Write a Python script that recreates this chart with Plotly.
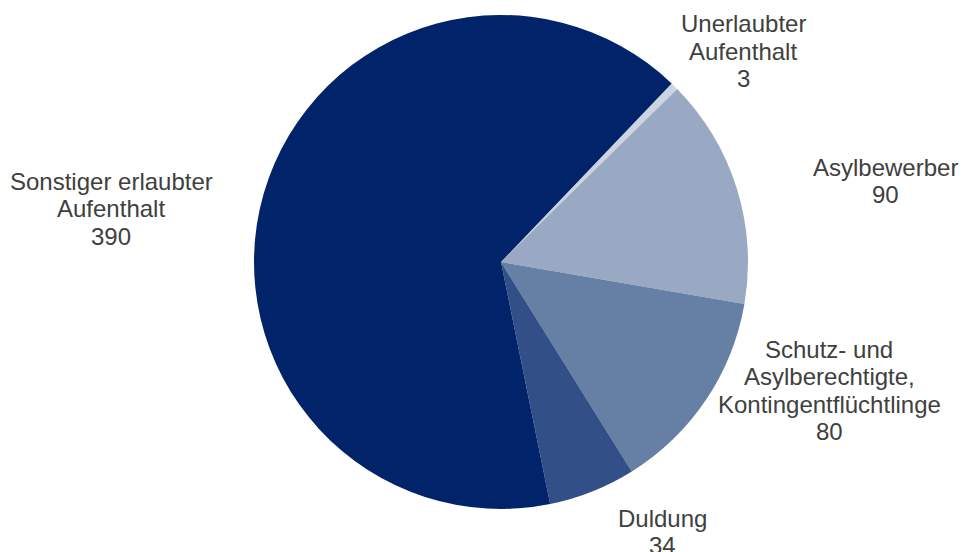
import plotly.graph_objects as go

labels = ["Unerlaubter Aufenthalt", "Asylbewerber",
          "Schutz- und Asylberechtigte, Kontingentflüchtlinge",
          "Duldung", "Sonstiger erlaubter Aufenthalt"]
label_lines = [["Unerlaubter", "Aufenthalt"], ["Asylbewerber"],
               ["Schutz- und", "Asylberechtigte,", "Kontingentflüchtlinge"],
               ["Duldung"], ["Sonstiger erlaubter", "Aufenthalt"]]
values = [3, 90, 80, 34, 390]
colors = ["#CCD3E1", "#99A9C3", "#667FA5", "#334F87", "#002369"]

# label anchor (pixel center x, first line center y)
label_pos = [(743, 24), (885, 167), (829, 349), (662, 518), (111, 181)]

W, H = 964, 552
cx, cy, r = 501, 262, 247

fig = go.Figure(go.Pie(
    labels=labels, values=values, sort=False, direction="clockwise",
    rotation=43.7, marker=dict(colors=colors, line=dict(width=0)),
    textinfo="none", hoverinfo="label+value", showlegend=False,
    domain=dict(x=[(cx - r) / W, (cx + r) / W], y=[1 - (cy + r) / H, 1 - (cy - r) / H]),
))

annotations = []
LS = 27.5
for lines, val, (px, py) in zip(label_lines, values, label_pos):
    for i, t in enumerate(lines + [str(val)]):
        annotations.append(dict(
            x=px / W, y=1 - (py + i * LS) / H, xref="paper", yref="paper",
            text=t, showarrow=False, xanchor="center", yanchor="middle",
            font=dict(family="Liberation Sans, Arial, sans-serif", size=24, color="#404040"),
        ))

fig.update_layout(
    width=W, height=H, margin=dict(l=0, r=0, t=0, b=0),
    paper_bgcolor="white", plot_bgcolor="white", annotations=annotations,
)
fig.write_html("out.html")
